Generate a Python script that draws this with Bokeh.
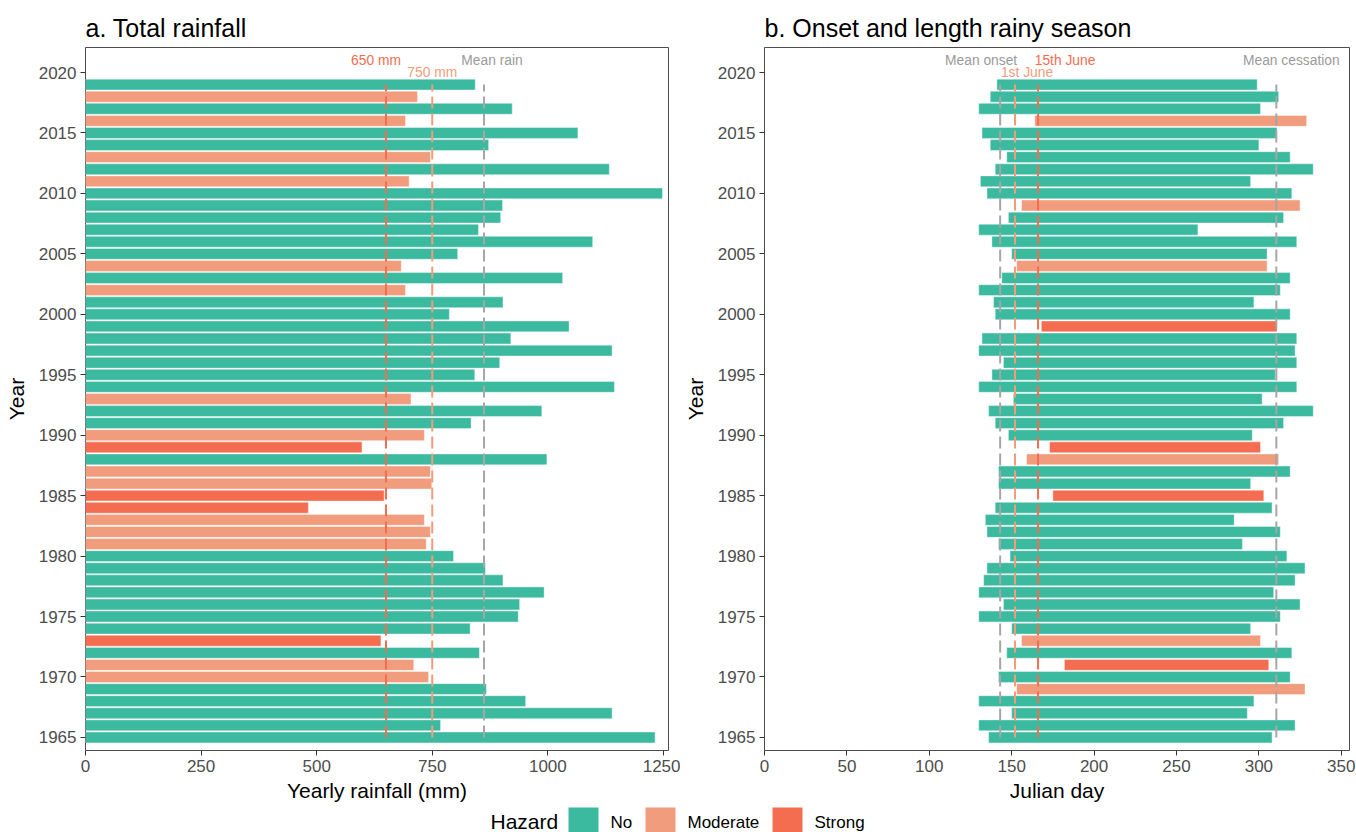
from bokeh.plotting import figure
from bokeh.models import Range1d, FixedTicker, ColumnDataSource
from bokeh.layouts import column, row
from bokeh.embed import file_html
from bokeh.resources import INLINE
from bokeh.core.properties import value

FONT = "Liberation Sans"

years = list(range(1965, 2020))

rain = [1232, 768, 1139, 952, 867, 742, 710, 852, 639, 832,
        936, 939, 992, 903, 865, 796, 737, 746, 733, 482,
        646, 749, 746, 998, 598, 733, 834, 987, 704, 1144,
        842, 896, 1139, 920, 1046, 787, 903, 692, 1032, 683,
        805, 1097, 850, 898, 902, 1248, 700, 1133, 746, 872,
        1065, 692, 923, 718, 843]
rain_hazard = ["No", "No", "No", "No", "No", "Moderate", "Moderate", "No", "Strong", "No",
               "No", "No", "No", "No", "No", "No", "Moderate", "Moderate", "Moderate", "Strong",
               "Strong", "Moderate", "Moderate", "No", "Strong", "Moderate", "No", "No", "Moderate", "No",
               "No", "No", "No", "No", "No", "No", "No", "Moderate", "No", "Moderate",
               "No", "No", "No", "No", "No", "No", "Moderate", "No", "Moderate", "No",
               "No", "Moderate", "No", "Moderate", "No"]

onset = [136, 130, 150, 130, 153, 142, 182, 147, 156, 150,
         130, 145, 130, 133, 135, 149, 142, 135, 134, 140,
         175, 142, 142, 159, 173, 148, 140, 136, 151, 130,
         138, 145, 130, 132, 168, 140, 139, 130, 144, 153,
         150, 138, 130, 148, 156, 135, 131, 140, 147, 137,
         132, 164, 130, 137, 141]
cessation = [308, 322, 293, 297, 328, 319, 306, 320, 301, 295,
             313, 325, 309, 322, 328, 317, 290, 313, 285, 308,
             303, 295, 319, 312, 301, 296, 315, 333, 302, 323,
             310, 323, 322, 323, 311, 319, 297, 313, 319, 305,
             305, 323, 263, 315, 325, 320, 295, 333, 319, 300,
             311, 329, 301, 312, 299]
season_hazard = ["No", "No", "No", "No", "Moderate", "No", "Strong", "No", "Moderate", "No",
                 "No", "No", "No", "No", "No", "No", "No", "No", "No", "No",
                 "Strong", "No", "No", "Moderate", "Strong", "No", "No", "No", "No", "No",
                 "No", "No", "No", "No", "Strong", "No", "No", "No", "No", "Moderate",
                 "No", "No", "No", "No", "Moderate", "No", "No", "No", "No", "No",
                 "No", "Moderate", "No", "No", "No"]

rain_thresholds = [650, 750]
rain_threshold_labels = ["650 mm", "750 mm"]
mean_rain = 862
onset_thresholds = [152, 166]
onset_threshold_labels = ["1st June", "15th June"]
mean_onset = 143
mean_cessation = 310.6

hazard_levels = ["No", "Moderate", "Strong"]
x_ticks_a = [0, 250, 500, 750, 1000, 1250]
x_ticks_b = [0, 50, 100, 150, 200, 250, 300, 350]
y_ticks = [1965, 1970, 1975, 1980, 1985, 1990, 1995, 2000, 2005, 2010, 2015, 2020]

COLORS = {"No": "#3BBAA0", "Moderate": "#F19C7C", "Strong": "#F46D50"}
GREY = "#A6A6A6"
GREY_TXT = "#9A9A9A"
ANN_SIZE = "13.8px"


def style(p, xticks, xlabel):
    p.outline_line_color = "#4D4D4D"
    p.outline_line_width = 1
    p.xgrid.visible = False
    p.ygrid.visible = False
    p.xaxis.ticker = FixedTicker(ticks=xticks)
    p.yaxis.ticker = FixedTicker(ticks=y_ticks)
    p.xaxis.axis_label = xlabel
    p.yaxis.axis_label = "Year"
    for ax in (p.xaxis[0], p.yaxis[0]):
        ax.axis_line_color = None
        ax.major_tick_line_color = "#333333"
        ax.major_tick_line_width = 1
        ax.major_tick_out = 5
        ax.major_tick_in = 0
        ax.minor_tick_line_color = None
        ax.major_label_text_font = FONT
        ax.major_label_text_font_size = "17px"
        ax.major_label_text_color = "#4D4D4D"
        ax.major_label_standoff = 4
        ax.axis_label_text_font = FONT
        ax.axis_label_text_font_size = "21px"
        ax.axis_label_text_font_style = "normal"
        ax.axis_label_text_color = "#000000"
    p.xaxis.axis_label_standoff = 4
    p.yaxis.axis_label_standoff = 8
    p.title.text_font = FONT
    p.title.text_font_size = "25px"
    p.title.text_font_style = "normal"
    p.title.text_color = "#000000"
    p.title.standoff = 12


YR = (1963.92, 2022.07)

# ---------- panel a ----------
pa = figure(width=680, height=805, x_range=Range1d(0, 1261), y_range=Range1d(*YR),
            min_border_left=85, min_border_right=12, min_border_top=47, min_border_bottom=55,
            output_backend="svg", toolbar_location=None, title="a. Total rainfall")
src_a = ColumnDataSource(dict(year=years, rain=rain,
                              color=[COLORS[h] for h in rain_hazard]))
pa.hbar(y="year", left=0, right="rain", height=0.9, fill_color="color",
        line_color="white", line_alpha=0.5, line_width=0.8, source=src_a)
y0, y1 = years[0], years[-1]
pa.segment(x0=[rain_thresholds[0]], x1=[rain_thresholds[0]], y0=[y0], y1=[y1],
           line_color=COLORS["Strong"], line_width=2, line_dash="12 5")
pa.segment(x0=[rain_thresholds[1]], x1=[rain_thresholds[1]], y0=[y0], y1=[y1],
           line_color=COLORS["Moderate"], line_width=2, line_dash="12 5")
pa.segment(x0=[mean_rain], x1=[mean_rain], y0=[y0], y1=[y1],
           line_color=GREY, line_width=2, line_dash="12 5")
pa.text(x=[rain_thresholds[0]], y=[2021], text=[rain_threshold_labels[0]], x_offset=-10,
        text_align="center", text_baseline="middle", text_font=value(FONT),
        text_font_size=ANN_SIZE, text_color=COLORS["Strong"])
pa.text(x=[rain_thresholds[1]], y=[2020], text=[rain_threshold_labels[1]],
        text_align="center", text_baseline="middle", text_font=value(FONT),
        text_font_size=ANN_SIZE, text_color=COLORS["Moderate"])
pa.text(x=[mean_rain], y=[2021], text=["Mean rain"], x_offset=8,
        text_align="center", text_baseline="middle", text_font=value(FONT),
        text_font_size=ANN_SIZE, text_color=GREY_TXT)
style(pa, x_ticks_a, "Yearly rainfall (mm)")

# ---------- panel b ----------
pb = figure(width=676, height=805, x_range=Range1d(0, 355), y_range=Range1d(*YR),
            min_border_left=82, min_border_right=7, min_border_top=47, min_border_bottom=55,
            output_backend="svg", toolbar_location=None, title="b. Onset and length rainy season")
src_b = ColumnDataSource(dict(year=years, onset=onset, cessation=cessation,
                              color=[COLORS[h] for h in season_hazard]))
pb.hbar(y="year", left="onset", right="cessation", height=0.9, fill_color="color",
        line_color="white", line_alpha=0.5, line_width=0.8, source=src_b)
pb.segment(x0=[mean_onset], x1=[mean_onset], y0=[y0], y1=[y1],
           line_color=GREY, line_width=2, line_dash="12 5")
pb.segment(x0=[onset_thresholds[0]], x1=[onset_thresholds[0]], y0=[y0], y1=[y1],
           line_color=COLORS["Moderate"], line_width=2, line_dash="12 5")
pb.segment(x0=[onset_thresholds[1]], x1=[onset_thresholds[1]], y0=[y0], y1=[y1],
           line_color=COLORS["Strong"], line_width=2, line_dash="12 5")
pb.segment(x0=[mean_cessation], x1=[mean_cessation], y0=[y0], y1=[y1],
           line_color=GREY, line_width=2, line_dash="12 5")
pb.text(x=[mean_onset], y=[2021], text=["Mean onset"], x_offset=-19,
        text_align="center", text_baseline="middle", text_font=value(FONT),
        text_font_size=ANN_SIZE, text_color=GREY_TXT)
pb.text(x=[onset_thresholds[1]], y=[2021], text=[onset_threshold_labels[1]], x_offset=27,
        text_align="center", text_baseline="middle", text_font=value(FONT),
        text_font_size=ANN_SIZE, text_color=COLORS["Strong"])
pb.text(x=[onset_thresholds[0]], y=[2020], text=[onset_threshold_labels[0]], x_offset=12,
        text_align="center", text_baseline="middle", text_font=value(FONT),
        text_font_size=ANN_SIZE, text_color=COLORS["Moderate"])
pb.text(x=[mean_cessation], y=[2021], text=["Mean cessation"], x_offset=15,
        text_align="center", text_baseline="middle", text_font=value(FONT),
        text_font_size=ANN_SIZE, text_color=GREY_TXT)
style(pb, x_ticks_b, "Julian day")

# ---------- legend ----------
pl = figure(width=1356, height=27, x_range=Range1d(0, 1356), y_range=Range1d(0, 27),
            min_border=0, output_backend="svg", toolbar_location=None)
pl.axis.visible = False
pl.grid.visible = False
pl.outline_line_color = None
pl.text(x=[490], y=[11], text=["Hazard"], text_align="left", text_baseline="middle",
        text_font=value(FONT), text_font_size="21px", text_color="#000000")
sq_left = [568, 645, 772]
lab_left = [610, 687, 814]
pl.quad(left=sq_left, right=[v + 30 for v in sq_left], bottom=[-6] * 3, top=[25] * 3,
        fill_color=[COLORS[h] for h in hazard_levels], line_color=None)
pl.text(x=lab_left, y=[10] * 3, text=hazard_levels, text_align="left", text_baseline="middle",
        text_font=value(FONT), text_font_size="17px", text_color="#000000")

layout = column(row(pa, pb), pl)
open("out.html", "w").write(file_html(layout, INLINE))
